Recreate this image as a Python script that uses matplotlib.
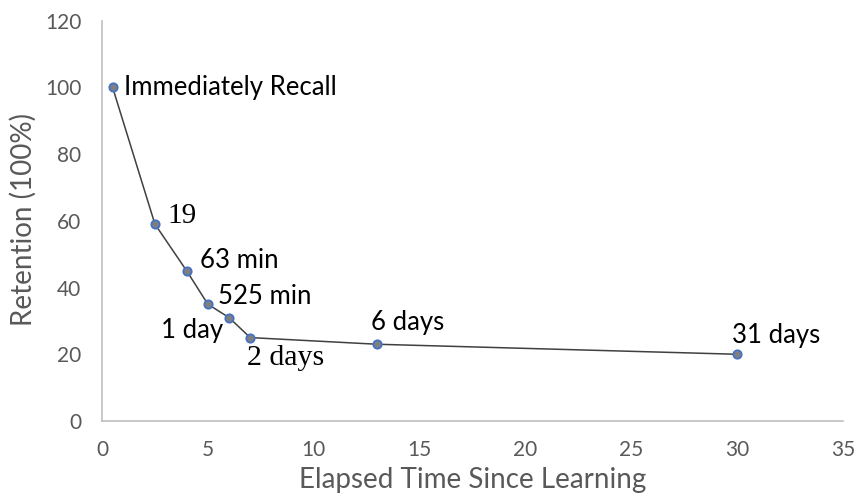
import matplotlib
matplotlib.use("Agg")
import matplotlib.pyplot as plt

elapsed = [0.5, 2.5, 4, 5, 6, 7, 13, 30]
retention = [100, 59, 45, 35, 31, 25, 23, 20]
labels = ["Immediately Recall", "19", "63 min", "525 min", "1 day", "2 days", "6 days", "31 days"]
x_ticks = [0, 5, 10, 15, 20, 25, 30, 35]
y_ticks = [0, 20, 40, 60, 80, 100, 120]

SANS = "Lato"
SERIF = "Liberation Serif"
# label placement (pixel offsets, alignment, font family, size)
label_style = [
    ((11, 0), "left", SANS, 18.5),
    ((13, 8), "left", SERIF, 21),
    ((13, 10), "left", SANS, 18.5),
    ((10, 8), "left", SANS, 18.5),
    ((-6, -13), "right", SANS, 18.5),
    ((-3, -20), "left", SERIF, 21.5),
    ((-6, 22), "left", SANS, 18.5),
    ((-5, 19), "left", SANS, 18.5),
]

W, H = 856, 503
L, R, T, B = 102, 843, 20.6, 421

fig = plt.figure(figsize=(W/100, H/100), dpi=100)
ax = fig.add_axes([L/W, 1-B/H, (R-L)/W, (B-T)/H])

ax.plot(elapsed, retention, color="#404040", lw=1.1, marker="o", ms=6,
        markerfacecolor="#7f7f7f", markeredgecolor="#4472c4", markeredgewidth=1.3, zorder=3)

for xv, yv, lab, (off, ha, fam, fs) in zip(elapsed, retention, labels, label_style):
    ax.annotate(lab, (xv, yv), xytext=off, textcoords="offset pixels",
                ha=ha, va="center", fontsize=fs, family=fam, color="black")

ax.set_xlim(0, 35)
ax.set_ylim(0, 120)
ax.set_xticks(x_ticks)
ax.set_yticks(y_ticks)
ax.tick_params(length=0, labelsize=15, colors="#595959")
ax.tick_params(axis="x", pad=14)
ax.tick_params(axis="y", pad=15)
for lab in ax.get_xticklabels() + ax.get_yticklabels():
    lab.set_family(SANS)

for s in ["top", "right"]:
    ax.spines[s].set_visible(False)
for s in ["left", "bottom"]:
    ax.spines[s].set_color("#bfbfbf")
    ax.spines[s].set_linewidth(1.2)

ax.set_xlabel("Elapsed Time Since Learning", fontsize=20, color="#595959", family=SANS,
              va="center", ha="center")
ax.xaxis.set_label_coords(0.5, (B-480)/(B-T))
ax.set_ylabel("Retention (100%)", fontsize=20, color="#595959", family=SANS,
              va="center", ha="center")
ax.yaxis.set_label_coords((23-L)/(R-L), (B-219)/(B-T))

fig.savefig("out.png", dpi=100)
